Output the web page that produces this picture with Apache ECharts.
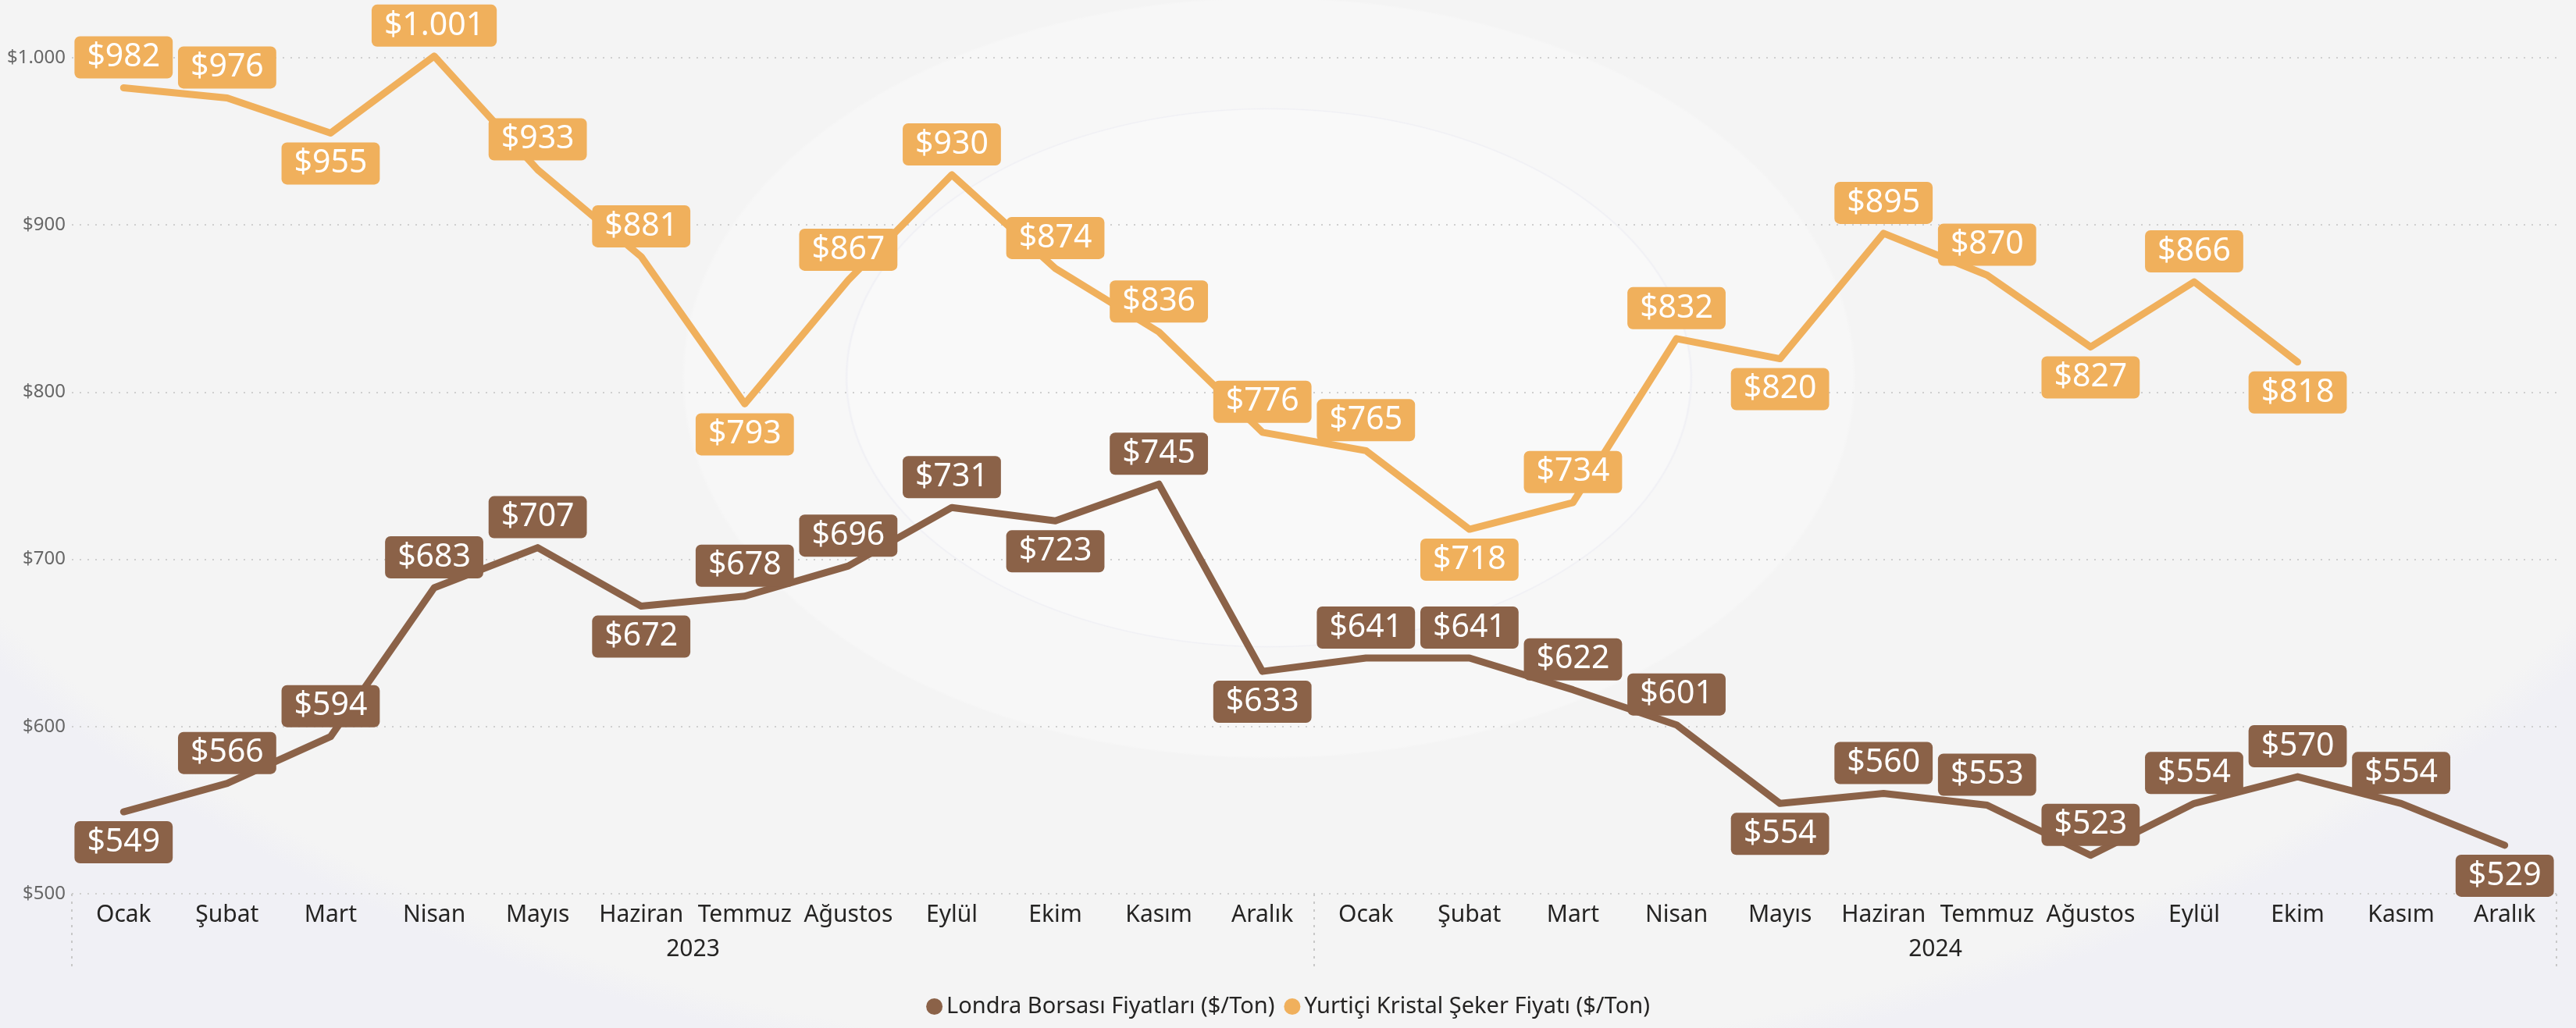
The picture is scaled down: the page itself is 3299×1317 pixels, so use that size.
<!DOCTYPE html>
<html>
<head>
	<meta charset="UTF-8">
	<title>Şeker Fiyatları</title>
	<script src="https://cdn.jsdelivr.net/npm/echarts@6/dist/echarts.min.js"></script>
	<style>
		html, body { margin: 0; padding: 0; }
		body { background: #f4f4f4; }
		#main {
			width: 3299px;
			height: 1317px;
			background:
				radial-gradient(ellipse 543px 346px at 1625px 484px, #f9f9f9 0%, #f9f9f9 99.2%, rgba(238,238,244,0.8) 99.6%, rgba(250,250,250,0) 100%),
				radial-gradient(ellipse 752px 488px at 1625px 484px, #f7f7f7 0%, #f7f7f7 99.4%, rgba(244,244,244,0) 100%),
				radial-gradient(ellipse 2000px 1250px at 1650px 150px, rgba(244,244,244,0) 0%, rgba(244,244,244,0) 97%, rgba(240,240,245,1) 100%),
				#f4f4f4;
		}
	</style>
</head>
<body>
	<div id="main"></div>
	<script>

	// ay etiketleri (2023 + 2024)
	var months = ['Ocak', 'Şubat', 'Mart', 'Nisan', 'Mayıs', 'Haziran', 'Temmuz', 'Ağustos', 'Eylül', 'Ekim', 'Kasım', 'Aralık',
		'Ocak', 'Şubat', 'Mart', 'Nisan', 'Mayıs', 'Haziran', 'Temmuz', 'Ağustos', 'Eylül', 'Ekim', 'Kasım', 'Aralık'];
	var years = ['2023', '2024'];

	var londra = [549, 566, 594, 683, 707, 672, 678, 696, 731, 723, 745, 633,
		641, 641, 622, 601, 554, 560, 553, 523, 554, 570, 554, 529];
	var yurtici = [982, 976, 955, 1001, 933, 881, 793, 867, 930, 874, 836, 776,
		765, 718, 734, 832, 820, 895, 870, 827, 866, 818];

	var yTicks = [500, 600, 700, 800, 900, 1000];

	// etiketin noktanın altında durduğu indeksler
	var londraBelow = [0, 5, 9, 11, 16, 23];
	var yurticiBelow = [2, 6, 13, 16, 19, 21];

	var brown = '#8B6248',
		orange = '#F0B05C';

	function fmt(v) {
		return '$' + String(v).replace(/\B(?=(\d{3})+(?!\d))/g, '.');
	}

	function buildData(values, below) {
		var arr = [];
		for (var i = 0; i < values.length; i++) {
			arr.push({
				value: values[i],
				label: { position: below.indexOf(i) > -1 ? 'bottom' : 'top' }
			});
		}
		return arr;
	}

	function labelStyle(color) {
		return {
			show: true,
			formatter: function(p) { return fmt(p.value); },
			color: '#ffffff',
			fontSize: 41,
			fontFamily: 'Noto Sans',
			lineHeight: 46,
			backgroundColor: color,
			borderRadius: 7,
			padding: [4, 16, 4, 16],
			distance: 11
		};
	}

	var myChart = echarts.init(document.getElementById('main'), null, { renderer: 'canvas' });

	var option = {
		backgroundColor: 'transparent',
		animation: false,
		textStyle: { fontFamily: 'Noto Sans' },
		grid: {
			left: 92,
			right: 25,
			top: 74,
			bottom: 172,
			containLabel: false
		},
		legend: {
			data: ['Londra Borsası Fiyatları ($/Ton)', 'Yurtiçi Kristal Şeker Fiyatı ($/Ton)'],
			left: 'center',
			top: 1270,
			icon: 'circle',
			itemWidth: 21,
			itemHeight: 21,
			itemGap: 12,
			textStyle: { fontSize: 29, color: '#252423', fontFamily: 'Noto Sans' }
		},
		xAxis: [{
			type: 'category',
			data: months,
			boundaryGap: true,
			axisLine: { show: false },
			axisTick: {
				show: true,
				interval: function(i) { return i === 0 || i === 12; },
				length: 98,
				lineStyle: { color: '#c8c8c8', width: 2, type: [3, 7] }
			},
			axisLabel: {
				interval: 0,
				margin: 12,
				fontSize: 30,
				color: '#252423',
				fontFamily: 'Noto Sans'
			},
			splitLine: { show: false }
		}, {
			type: 'category',
			data: years,
			position: 'bottom',
			offset: 44,
			axisLine: { show: false },
			axisTick: { show: false },
			axisLabel: {
				margin: 12,
				fontSize: 30,
				color: '#252423',
				fontFamily: 'Noto Sans'
			}
		}],
		yAxis: {
			type: 'value',
			min: yTicks[0],
			max: yTicks[yTicks.length - 1],
			interval: 100,
			axisLine: { show: false },
			axisTick: { show: false },
			axisLabel: {
				margin: 8,
				fontSize: 24,
				color: '#666666',
				fontFamily: 'Noto Sans',
				formatter: function(v) { return fmt(v); }
			},
			splitLine: {
				show: true,
				lineStyle: { color: '#cfcfcf', width: 2, type: [2, 8] }
			}
		},
		series: [{
			name: 'Londra Borsası Fiyatları ($/Ton)',
			type: 'line',
			xAxisIndex: 0,
			data: buildData(londra, londraBelow),
			symbol: 'circle',
			symbolSize: 2,
			showSymbol: true,
			clip: false,
			color: brown,
			itemStyle: { color: brown },
			lineStyle: { color: brown, width: 9, cap: 'round', join: 'round' },
			label: labelStyle(brown),
			z: 2
		}, {
			name: 'Yurtiçi Kristal Şeker Fiyatı ($/Ton)',
			type: 'line',
			xAxisIndex: 0,
			data: buildData(yurtici, yurticiBelow),
			symbol: 'circle',
			symbolSize: 2,
			showSymbol: true,
			clip: false,
			color: orange,
			itemStyle: { color: orange },
			lineStyle: { color: orange, width: 9, cap: 'round', join: 'round' },
			label: labelStyle(orange),
			z: 3
		}]
	};

	myChart.setOption(option, true);
	</script>
</body>
</html>
